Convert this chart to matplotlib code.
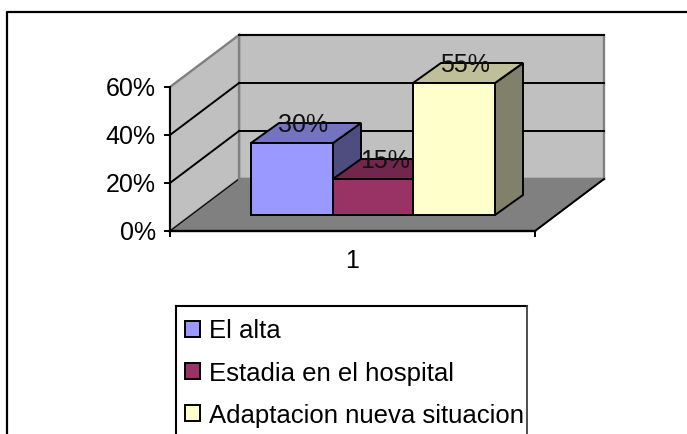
#3D bar chart, drawn by hand with a fake depth
import matplotlib
matplotlib.use("Agg")
import matplotlib.pyplot as plt
from matplotlib.patches import Polygon, Rectangle

plt.rcParams['font.family'] = ['Liberation Sans', 'DejaVu Sans']

categories = ["El alta", "Estadia en el hospital", "Adaptacion nueva situacion"]
values = [30, 15, 55]
labels = ["30%", "15%", "55%"]
colors = ["#9999FF", "#993366", "#FFFFCC"]
top_colors = ["#7373BF", "#73264D", "#BFBF99"]
side_colors = ["#4D4D80", "#4D1A33", "#80806B"]
ticks = [0, 20, 40, 60]
tick_labels = ["0%", "20%", "40%", "60%"]
x_label = "1"

#pixel positions of the chart
x0, x1 = 170, 535  #front floor edge
y0 = 231  #0%
k = 2.4  #pixels per 1%
dx, dy = 69, 52  #wall depth
bar_dx, bar_dy = 28, 20  #bar depth
bar_left = 251
bar_w = [82, 80, 82]
bar_base = 215
font = 18

def val_y(v):
    return y0 - v * k

fig = plt.figure(figsize=(6.87, 4.34), dpi=100)
ax = fig.add_axes([0, 0, 1, 1])
ax.set_xlim(0, 687)
ax.set_ylim(434, 0)
ax.axis("off")

#outer frame, right and bottom are cut off
ax.plot([7, 7, 687], [434, 12, 12], color="black", lw=1.6, zorder=1)

#walls and floor
top = val_y(ticks[-1])
ax.add_patch(Polygon([(x0 + dx, top - dy), (x1 + dx, top - dy), (x1 + dx, y0 - dy), (x0 + dx, y0 - dy)],
                     fc="#C0C0C0", ec="#808080", lw=1.7, zorder=2))
ax.add_patch(Polygon([(x0, top), (x0 + dx, top - dy), (x0 + dx, y0 - dy), (x0, y0)],
                     fc="#C0C0C0", ec="#808080", lw=1.7, zorder=2))
ax.add_patch(Polygon([(x0, y0), (x0 + dx, y0 - dy), (x1 + dx, y0 - dy), (x1, y0)],
                     fc="#808080", ec="black", lw=0.8, zorder=2))
ax.plot([x0 + dx, x1 + dx], [y0 - dy, y0 - dy], color="#808080", lw=1.7, zorder=3)

#grid lines
for t in ticks[1:]:
    yy = val_y(t)
    if t != ticks[-1]:
        ax.plot([x0, x0 + dx], [yy, yy - dy], color="black", lw=1.4, zorder=3)
    ax.plot([x0 + dx, x1 + dx], [yy - dy, yy - dy], color="black", lw=1.4, zorder=3)

#y axis, ticks, floor front edge
ax.plot([x0, x0], [top, y0], color="black", lw=1.4, zorder=4)
ax.plot([x0, x1], [y0, y0], color="black", lw=1.7, zorder=4)
ax.plot([x1, x1 + dx], [y0, y0 - dy], color="black", lw=1.4, zorder=4)
for t, s in zip(ticks, tick_labels):
    yy = val_y(t)
    ax.plot([x0 - 5, x0], [yy, yy], color="black", lw=1.4, zorder=4)
    ax.text(x0 - 14, yy, s, ha="right", va="center_baseline", fontsize=font, color="black")
for xx in [x0, x1]:
    ax.plot([xx, xx], [y0, y0 + 5], color="black", lw=1.4, zorder=4)
ax.text((x0 + x1) / 2, 258, x_label, ha="center", va="center_baseline", fontsize=font, color="black")

#bars
left = bar_left
for i, v in enumerate(values):
    right = left + bar_w[i]
    h = v * k
    yt = bar_base - h
    z = 5 + i
    ax.add_patch(Polygon([(right, yt), (right + bar_dx, yt - bar_dy), (right + bar_dx, bar_base - bar_dy), (right, bar_base)],
                         fc=side_colors[i], ec="black", lw=1.4, zorder=z))
    ax.add_patch(Polygon([(left, yt), (left + bar_dx, yt - bar_dy), (right + bar_dx, yt - bar_dy), (right, yt)],
                         fc=top_colors[i], ec="black", lw=1.4, zorder=z))
    ax.add_patch(Rectangle((left, yt), bar_w[i], h, fc=colors[i], ec="black", lw=1.4, zorder=z))
    ax.text(left + 52, yt - 20, labels[i], ha="center", va="center_baseline", fontsize=font, color="#111111", zorder=10)
    left = right

#legend, also cut off at the bottom
lx0, lx1, ly0 = 176, 527, 306
ax.add_patch(Rectangle((lx0, ly0), lx1 - lx0, 434 - ly0, fc="white", ec="none", zorder=3))
ax.plot([lx0, lx0], [434, ly0], color="black", lw=1.5, zorder=4)
ax.plot([lx0, lx1], [ly0, ly0], color="black", lw=1.5, zorder=4)
ax.plot([lx1, lx1], [ly0, 434], color="#404040", lw=1.3, zorder=4)
for i, name in enumerate(categories):
    yy = 329 + i * 42
    ax.add_patch(Rectangle((185, yy - 8), 15, 16, fc=colors[i], ec="black", lw=1.4, zorder=5))
    ax.text(209, yy, name, ha="left", va="center_baseline", fontsize=18.55, color="black", zorder=5)

fig.savefig("out.png", dpi=100)
